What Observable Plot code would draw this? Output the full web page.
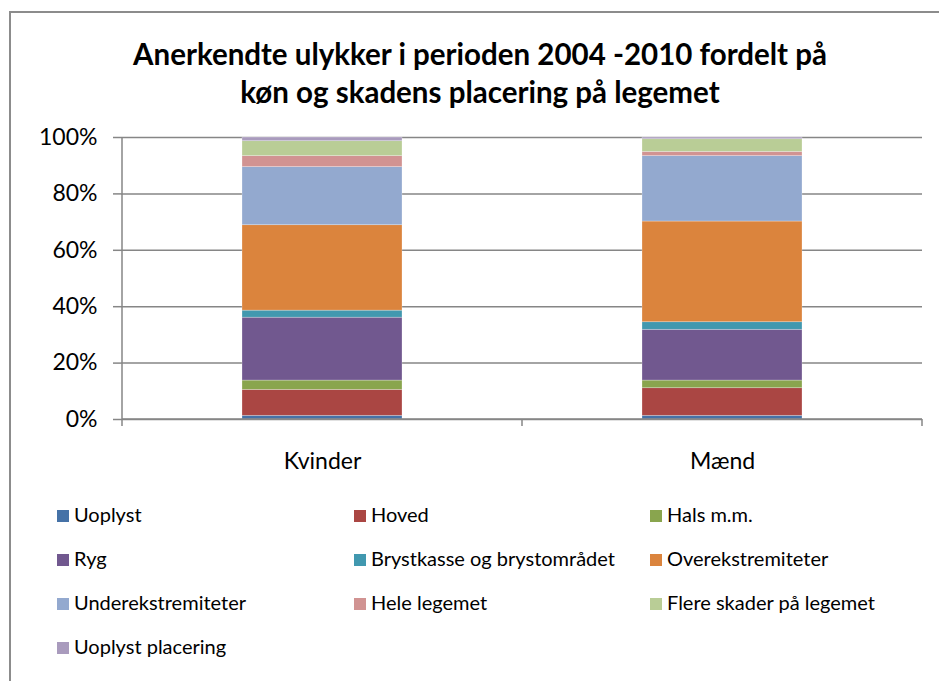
<!DOCTYPE html>
<html>
<head>
<meta charset="utf-8">
<script src="https://cdn.jsdelivr.net/npm/d3@7"></script>
<script src="https://cdn.jsdelivr.net/npm/@observablehq/plot@0.6"></script>
<style>
  html, body { margin: 0; padding: 0; background: #fff; }
  body { width: 939px; height: 681px; overflow: hidden; position: relative; font-family: Lato, "Open Sans", sans-serif; color: #000; }
  #frame { position: absolute; left: 9px; top: 11px; width: 960px; height: 700px; border-left: 2px solid #8c8c8c; border-top: 2px solid #8c8c8c; box-sizing: border-box; }
  #title { position: absolute; left: 0; top: 35px; width: 960px; text-align: center; font-weight: bold; font-size: 29.5px; line-height: 38px; }
  #chart { position: absolute; left: 0; top: 100px; }
  #legend { position: absolute; left: 0; top: 0; width: 939px; height: 681px; pointer-events: none; }
  .li { position: absolute; font-size: 20px; line-height: 22px; white-space: nowrap; }
  .sw { display: inline-block; width: 12px; height: 12px; margin-right: 5px; vertical-align: 0px; }
</style>
</head>
<body>
<div id="frame"></div>
<div id="title">Anerkendte ulykker i perioden 2004 -2010 fordelt på<br>køn og skadens placering på legemet</div>
<div id="chart"></div>
<div id="legend"></div>
<script>
const categories = ["Kvinder", "Mænd"];
const seriesNames = ["Uoplyst", "Hoved", "Hals m.m.", "Ryg", "Brystkasse og brystområdet", "Overekstremiteter", "Underekstremiteter", "Hele legemet", "Flere skader på legemet", "Uoplyst placering"];
const kvinder = [1.3, 9.2, 3.3, 22.3, 2.5, 30.3, 20.6, 3.9, 5.3, 1.3];
const maend   = [1.3, 9.8, 2.7, 18.0, 2.7, 35.7, 23.2, 1.5, 4.5, 0.6];
const colors = ["#4572A7", "#AA4643", "#89A54E", "#71588F", "#4198AF", "#DB843D", "#93A9CF", "#D19392", "#B9CD96", "#A99BBD"];
const yTicks = [0, 20, 40, 60, 80, 100];

const values = {"Kvinder": kvinder, "Mænd": maend};
const data = [];
for (const c of categories) {
  seriesNames.forEach((s, i) => data.push({cat: c, series: s, value: values[c][i]}));
}

const plot = Plot.plot({
  width: 939,
  height: 380,
  marginTop: 37,
  marginBottom: 61,
  marginLeft: 121,
  marginRight: 17,
  style: {fontFamily: "Lato, 'Open Sans', sans-serif", background: "transparent", overflow: "visible"},
  x: {domain: categories, paddingInner: 0.6, paddingOuter: 0.3, axis: null},
  y: {domain: [0, 100], axis: null},
  color: {domain: seriesNames, range: colors},
  marks: [
    Plot.ruleY(yTicks, {stroke: "#868686", strokeWidth: 1.5}),
    Plot.barY(data, Plot.stackY({order: null}, {x: "cat", y: "value", fill: "series", stroke: "#ffffff", strokeOpacity: 0.35, strokeWidth: 0.75})),
    Plot.axisY(yTicks, {label: null, tickFormat: d => d + "%", tickSize: 8, tickPadding: 16, fontSize: 23, stroke: "#868686", strokeWidth: 1.5, color: "#000"}),
    Plot.axisX({label: null, tickSize: 0, tickPadding: 33, fontSize: 23, fill: "#000"})
  ]
});
document.getElementById("chart").appendChild(plot);

// Category boundaries (axis line + tick marks between categories), from the band scale
const svg = d3.select(plot);
const sx = plot.scale("x");
const sy = plot.scale("y");
const y0 = sy.apply(0);
const step = sx.step;
const boundaries = categories.map(c => sx.apply(c) - sx.paddingOuter * step);
boundaries.push(sx.apply(categories[categories.length - 1]) + sx.bandwidth + sx.paddingOuter * step);
const gb = svg.append("g").attr("stroke", "#868686").attr("stroke-width", 1.5);
gb.append("line").attr("x1", boundaries[0]).attr("x2", boundaries[0]).attr("y1", sy.apply(100)).attr("y2", y0);
gb.append("line").attr("x1", boundaries[0]).attr("x2", boundaries[boundaries.length - 1]).attr("y1", y0).attr("y2", y0);
boundaries.forEach(b => gb.append("line").attr("x1", b).attr("x2", b).attr("y1", y0).attr("y2", y0 + 7));

// Legend: 3 columns
const legend = document.getElementById("legend");
const colX = [57, 354, 650];
const rowY = [503, 547, 591, 635];
seriesNames.forEach((s, i) => {
  const d = document.createElement("div");
  d.className = "li";
  d.style.left = colX[i % 3] + "px";
  d.style.top = rowY[Math.floor(i / 3)] + "px";
  d.innerHTML = `<span class="sw" style="background:${colors[i]}"></span>${s}`;
  legend.appendChild(d);
});
</script>
</body>
</html>
